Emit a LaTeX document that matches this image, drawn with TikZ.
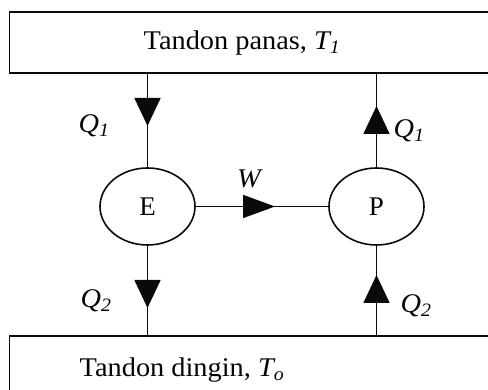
\documentclass[tikz,border=0pt]{standalone}
\usepackage{fontspec}
\setmainfont{Liberation Serif}
\usetikzlibrary{arrows.meta,shapes.geometric,decorations.markings}

\definecolor{hedraw}{RGB}{10,10,10}
\definecolor{hetext}{RGB}{5,5,5}

\begin{document}
\begin{tikzpicture}[
  x=1pt,
  y=1pt,
  every node/.style={inner sep=0pt, outer sep=0pt},
  txt/.style={font=\fontsize{27}{30}\selectfont, text=hetext, xscale=1.05, anchor=base},
  tank/.style={draw=hedraw, line width=1.6pt},
  unit/.style={draw=hedraw, line width=1.6pt, ellipse, font=\fontsize{27}{30}\selectfont, text=hetext, minimum width=95pt, minimum height=77pt},
  flow/.style={draw=hedraw, line width=1.6pt},
  vtip/.style={postaction={decorate, decoration={markings, mark=at position #1 with {\arrow[hedraw]{Triangle[length=28pt,width=26pt]}}}}},
  htip/.style={postaction={decorate, decoration={markings, mark=at position #1 with {\arrow[hedraw]{Triangle[length=32pt,width=23pt]}}}}}
]

  \path[use as bounding box, fill=white] (0,0) rectangle (488,390);
  \clip (0,0) rectangle (488,390);

  % Hot and cold reservoirs.
  \draw[tank] (9.5,317) rectangle (520,378);
  \node[txt] (panas) at (242,340) {Tandon panas, \textit{T\textsubscript{1}}};
  \coordinate (panasb) at (0,317);
  \draw[tank] (9.5,-20) rectangle (520,54);
  \node[txt] (dingin) at (182,13) {Tandon dingin, \textit{T\textsubscript{o}}};
  \coordinate (dingint) at (0,54);

  % Engine and pump.
  \node[unit] (E) at (147.5,183.5) {E};
  \node[unit] (P) at (376.5,183.5) {P};

  % Heat and work flows.
  \draw[flow, vtip=53pt] (E.north |- panasb) -- (E.north);
  \draw[flow, vtip=63pt] (E.south) -- (E.south |- dingint);
  \draw[flow, vtip=62pt] (P.north) -- (P.north |- panasb);
  \draw[flow, vtip=61pt] (P.south |- dingint) -- (P.south);
  \draw[flow, htip=80pt] (E.east) -- (P.west);

  \node[txt] (q1l) at (94,257) {\textit{Q\textsubscript{1}}};
  \node[txt] (q2l) at (96,82) {\textit{Q\textsubscript{2}}};
  \node[txt] (q1r) at (409,252) {\textit{Q\textsubscript{1}}};
  \node[txt] (q2r) at (416,77) {\textit{Q\textsubscript{2}}};
  \node[txt] (w) at (250,202) {\textit{W}};

\end{tikzpicture}
\end{document}
